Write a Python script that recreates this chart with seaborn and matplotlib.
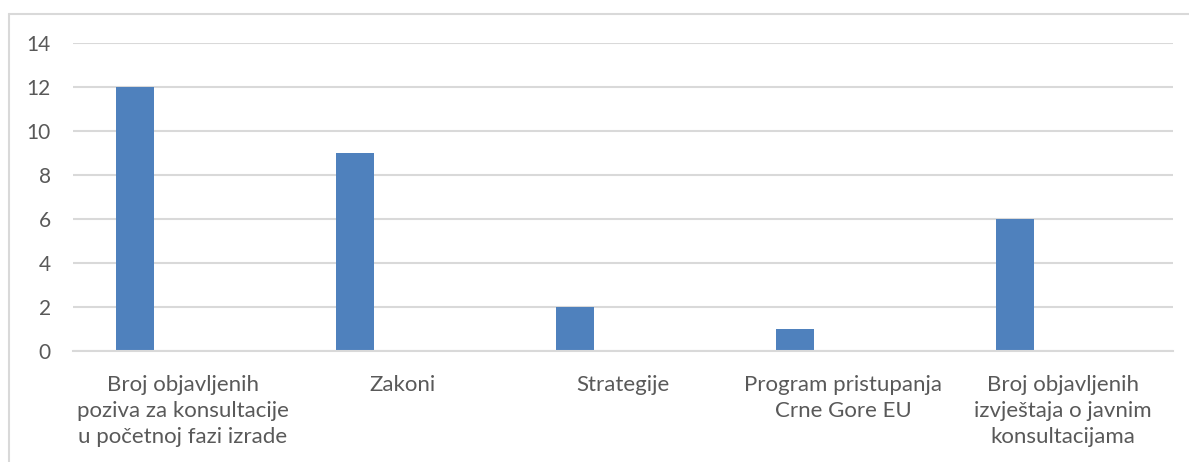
import numpy as np
import pandas as pd
import matplotlib.pyplot as plt
import seaborn as sns
from matplotlib.lines import Line2D

# data
categories = [
    "Broj objavljenih\npoziva za konsultacije\nu početnoj fazi izrade",
    "Zakoni",
    "Strategije",
    "Program pristupanja\nCrne Gore EU",
    "Broj objavljenih\nizvještaja o javnim\nkonsultacijama",
]
values = [12, 9, 2, 1, 6]
yticks = [0, 2, 4, 6, 8, 10, 12, 14]

sns.set_theme(style="white")
plt.rcParams['font.family'] = ['Lato', 'DejaVu Sans']

fig = plt.figure(figsize=(11.89, 4.62), dpi=100)
ax = fig.add_axes([0.0614, 0.2403, 0.9251, 0.6666])

idx = np.arange(len(categories))
df = pd.DataFrame({"pos": idx - 0.22, "val": values})
sns.barplot(data=df, x="pos", y="val", native_scale=True, width=0.173,
            color="#4f81bd", saturation=1, linewidth=0, ax=ax)

ax.set_xlim(-0.5, len(categories) - 0.5)
ax.set_ylim(0, 14)
ax.set_yticks(yticks)
ax.set_xticks(idx)
ax.set_xlabel("")
ax.set_ylabel("")
ax.yaxis.grid(True, color="#d9d9d9", linewidth=1.5)
ax.set_axisbelow(True)
for s in ["left", "right", "top"]:
    ax.spines[s].set_visible(False)
ax.spines["bottom"].set_color("#d9d9d9")
ax.spines["bottom"].set_linewidth(1.5)
ax.tick_params(axis="both", length=0, labelcolor="#595959")
ax.tick_params(axis="y", pad=16, labelsize=15)
ax.tick_params(axis="x", pad=17)
ax.set_xticklabels(categories, linespacing=1.38, fontsize=16)

# outer chart border (partly cropped)
fig.add_artist(Line2D([9 / 1189, 9 / 1189], [0, 1 - 14 / 462],
                      transform=fig.transFigure, color="#d9d9d9", lw=1.5))
fig.add_artist(Line2D([9 / 1189, 1], [1 - 14 / 462, 1 - 14 / 462],
                      transform=fig.transFigure, color="#d9d9d9", lw=1.5))

fig.savefig("out.png", dpi=100)
